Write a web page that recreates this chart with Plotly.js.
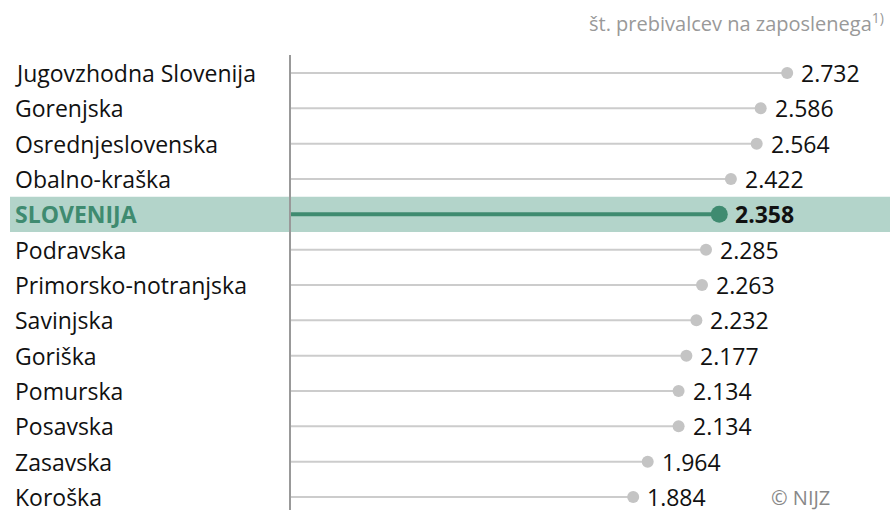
<!DOCTYPE html>
<html><head><meta charset="utf-8">
<script src="https://cdn.plot.ly/plotly-3.0.1.min.js"></script>
<style>html,body{margin:0;padding:0;background:#fff}#chart{width:890px;height:510px}</style>
</head><body><div id="chart"></div>
<script>
const regions = ["Jugovzhodna Slovenija","Gorenjska","Osrednjeslovenska","Obalno-kraška","SLOVENIJA","Podravska","Primorsko-notranjska","Savinjska","Goriška","Pomurska","Posavska","Zasavska","Koroška"];
const values = [2.732,2.586,2.564,2.422,2.358,2.285,2.263,2.232,2.177,2.134,2.134,1.964,1.884];
const valueLabels = ["2.732","2.586","2.564","2.422","2.358","2.285","2.263","2.232","2.177","2.134","2.134","1.964","1.884"];
const highlight = "SLOVENIJA";
const titleText = "št. prebivalcev na zaposlenega<sup>1)</sup>";
const sourceText = "© NIJZ";

const FONT = "'Open Sans', 'Noto Sans', sans-serif";
const GREEN = "#3f8b70";
const idx = regions.map((_, i) => i);
const hi = regions.indexOf(highlight);
const others = idx.filter(i => i !== hi);

// stems
const sx = [], sy = [];
others.forEach(i => { sx.push(0, values[i], null); sy.push(i, i, null); });
const traces = [
  {type:'scatter', mode:'lines', x:sx, y:sy, line:{color:'#cccccc', width:2}, hoverinfo:'skip'},
  {type:'scatter', mode:'lines', x:[0, values[hi]], y:[hi, hi], line:{color:GREEN, width:4}, hoverinfo:'skip'},
  {type:'scatter', mode:'markers', x: others.map(i => values[i]), y: others,
    marker:{color:'#c4c4c4', size:12}, cliponaxis:false},
  {type:'scatter', mode:'markers', x:[values[hi]], y:[hi],
    marker:{color:GREEN, size:17}, cliponaxis:false}
];

const annotations = regions.map((r, i) => ({
  xref:'paper', yref:'y', x:0, y:i, xshift:-278, xanchor:'left', yanchor:'middle',
  text: i === hi ? '<b>'+r+'</b>' : r, showarrow:false,
  font:{family:FONT, size:23, color: i === hi ? GREEN : '#111'}
}));
idx.forEach(i => annotations.push({
  xref:'x', yref:'y', x:values[i], y:i, xshift: i === hi ? 14 : 12, xanchor:'left', yanchor:'middle',
  text: i === hi ? '<b>'+valueLabels[i]+'</b>' : valueLabels[i], showarrow:false,
  font:{family:FONT, size:23, color:'#111'}
}));
annotations.push({xref:'paper', yref:'y', x:1, y:regions.length-1, xshift:-58, xanchor:'right', yanchor:'middle',
  text:sourceText, showarrow:false, font:{family:FONT, size:20, color:'#888'}});
annotations.push({xref:'paper', yref:'paper', x:1, y:1, xshift:-4, yshift:33, xanchor:'right', yanchor:'middle',
  text:titleText, showarrow:false, font:{family:FONT, size:20, color:'#999'}});

const layout = {
  width:890, height:510,
  margin:{l:291, r:0, t:55, b:0},
  paper_bgcolor:'#fff', plot_bgcolor:'rgba(0,0,0,0)',
  showlegend:false,
  font:{family:FONT},
  xaxis:{range:[0, 3.298], showgrid:false, zeroline:false, showticklabels:false, ticks:'', showline:false, fixedrange:true},
  yaxis:{range:[12.368, -0.509], showgrid:false, zeroline:false, showticklabels:false, ticks:'',
         showline:true, linecolor:'#999', linewidth:2, fixedrange:true},
  shapes:[{type:'rect', xref:'paper', yref:'y', x0:-281/599, x1:1, y0:hi-0.5, y1:hi+0.5,
           fillcolor:'#b3d4ca', line:{width:0}, layer:'below'}],
  annotations:annotations
};
Plotly.newPlot('chart', traces, layout, {displayModeBar:false, staticPlot:true});
</script></body></html>
